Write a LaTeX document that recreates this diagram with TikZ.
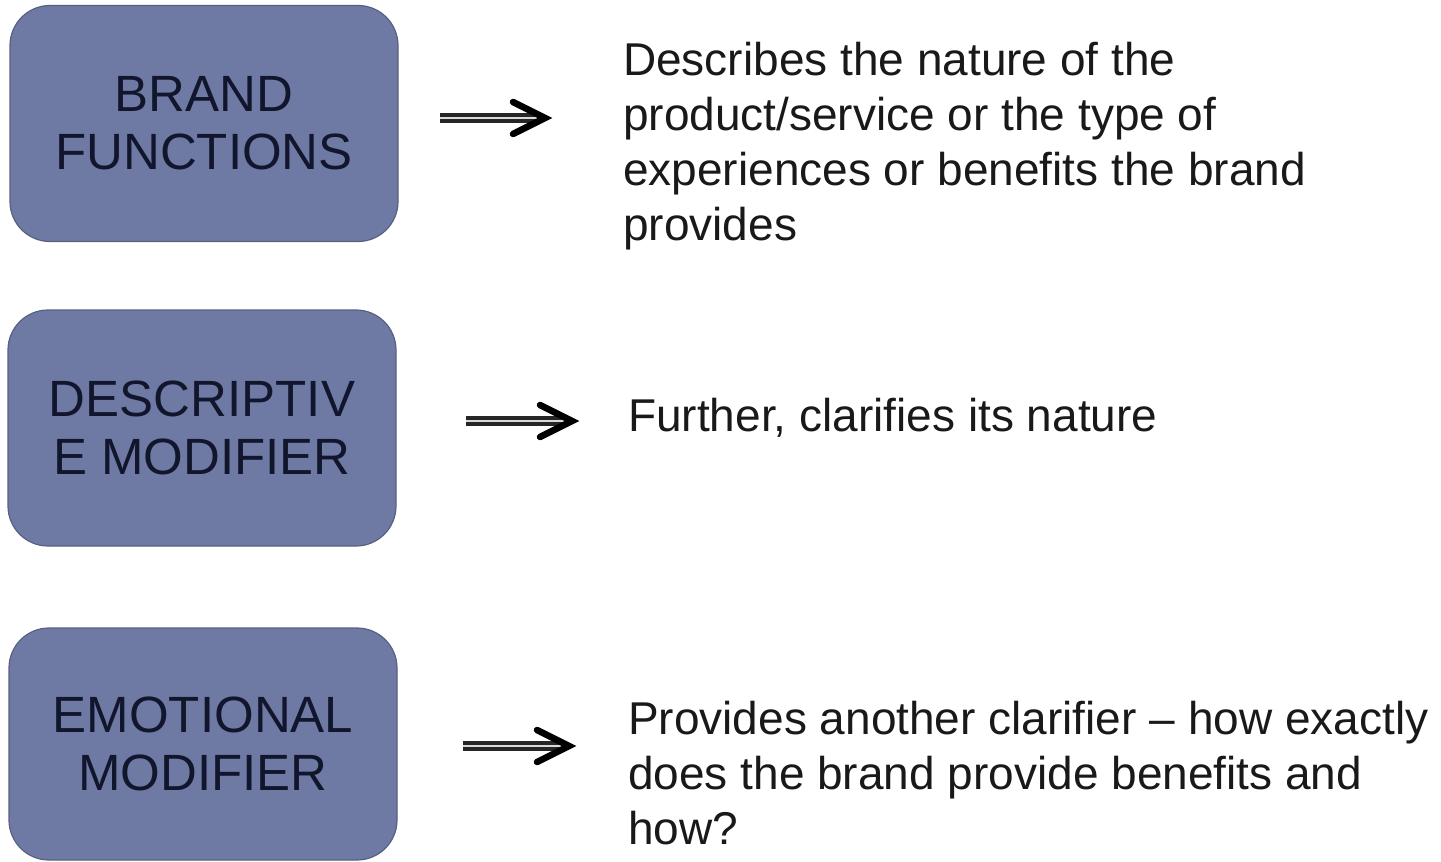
\documentclass[tikz,border=0pt]{standalone}
\usepackage{fontspec}
\setmainfont{Liberation Sans}
\usetikzlibrary{calc}
\definecolor{boxfill}{RGB}{110,121,164}
\definecolor{boxline}{RGB}{88,96,130}
\definecolor{boxtext}{RGB}{18,22,45}
\definecolor{desctext}{RGB}{25,25,25}
\tikzset{
  catbox/.style={draw=boxline, line width=1.2pt, fill=boxfill, rounded corners=40pt,
    minimum width=388pt, minimum height=236pt, align=center, text=boxtext,
    font=\fontsize{51}{58}\selectfont, inner sep=0pt},
  desc/.style={anchor=north west, align=left, inner sep=0pt, text=desctext,
    font=\fontsize{46}{55}\selectfont},
  shaft/.style={draw=black!85, line width=3.5pt, double=white!70!gray, double distance=2.5pt},
  head/.style={draw=black, line width=6.5pt, line cap=round, line join=miter}
}
\begin{document}
\begin{tikzpicture}[x=1pt,y=-1pt]
\useasboundingbox (0,0) rectangle (1441,862);
% boxes
\node[catbox] (b1) at (204,123.5) {BRAND\\FUNCTIONS};
\node[catbox] (b2) at (202,428) {DESCRIPTIV\\E MODIFIER};
\node[catbox, minimum height=232pt] (b3) at (203,744) {EMOTIONAL\\MODIFIER};
% descriptions
\node[desc] (d1) at (623,42) {Describes the nature of the\\product/service or the type of\\experiences or benefits the brand\\provides};
\node[desc] (d2) at (628,398) {Further, clarifies its nature};
\node[desc] (d3) at (628,701) {Provides another clarifier – how exactly\\does the brand provide benefits and\\how?};
% arrows
\coordinate (a1s) at (440,118); \coordinate (a1e) at (545,118);
\coordinate (a2s) at (466,421); \coordinate (a2e) at (572,421);
\coordinate (a3s) at (463,746); \coordinate (a3e) at (569,746);
\foreach \s/\e in {a1s/a1e,a2s/a2e,a3s/a3e}{
  \draw[shaft] (\s) -- ($(\e)+(-8,0)$);
  \draw[head] ($(\e)+(-32,-16)$) -- (\e) -- ($(\e)+(-32,16)$);
}
\end{tikzpicture}
\end{document}
